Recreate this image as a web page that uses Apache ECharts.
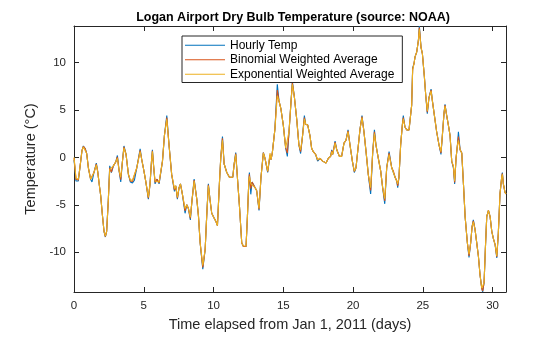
<!DOCTYPE html>
<html><head><meta charset="utf-8">
<script src="https://cdn.jsdelivr.net/npm/echarts@6/dist/echarts.min.js"></script>
<style>html,body{margin:0;padding:0;background:#fff}#c{width:560px;height:337px}</style>
</head><body><div id="c"></div>
<script>
const days = [0.00,0.07,0.14,0.31,0.43,0.57,0.67,0.81,0.91,1.03,
1.19,1.29,1.43,1.60,1.70,1.82,1.91,2.03,2.15,2.25,
2.34,2.46,2.56,2.68,2.82,2.99,3.11,3.23,3.35,3.46,
3.58,3.73,3.90,4.04,4.19,4.33,4.50,4.74,4.85,4.97,
5.14,5.33,5.45,5.55,5.62,5.71,5.81,5.95,6.10,6.24,
6.34,6.48,6.65,6.81,7.00,7.20,7.29,7.41,7.53,7.63,
7.77,7.96,8.08,8.20,8.34,8.44,8.61,8.80,8.92,9.04,
9.23,9.40,9.51,9.63,9.75,9.87,10.04,10.18,10.28,10.42,
10.52,10.64,10.76,10.95,11.14,11.38,11.47,11.59,11.71,11.86,
12.02,12.14,12.33,12.43,12.53,12.57,12.67,12.76,12.98,13.09,
13.26,13.40,13.57,13.69,13.88,14.05,14.12,14.21,14.40,14.57,
14.69,14.83,15.00,15.17,15.29,15.41,15.55,15.65,15.79,15.96,
16.12,16.24,16.36,16.51,16.60,16.75,16.91,17.03,17.15,17.32,
17.46,17.63,17.82,18.06,18.23,18.39,18.47,18.54,18.71,18.83,
19.02,19.18,19.35,19.49,19.64,19.78,19.95,20.09,20.21,20.38,
20.50,20.64,20.78,20.93,21.09,21.26,21.41,21.53,21.64,21.81,
21.98,22.12,22.27,22.41,22.58,22.77,22.89,23.01,23.13,23.20,
23.29,23.41,23.53,23.60,23.72,23.84,24.01,24.13,24.20,24.27,
24.37,24.44,24.56,24.68,24.75,24.87,24.97,25.11,25.21,25.32,
25.44,25.59,25.68,25.83,25.99,26.16,26.30,26.40,26.52,26.59,
26.71,26.83,26.95,27.07,27.19,27.28,27.38,27.48,27.55,27.67,
27.79,27.91,28.03,28.19,28.31,28.43,28.53,28.62,28.74,28.86,
28.98,29.10,29.22,29.29,29.39,29.48,29.58,29.70,29.82,29.94,
30.06,30.18,30.30,30.41,30.53,30.65,30.70,30.77,30.89,30.96];

const hourlyTemp = [-0.3,-1.2,-2.5,-2.5,-1.0,0.7,1.2,0.9,0.4,-1.1,
-2.3,-2.6,-1.6,-0.6,-1.5,-3.0,-4.0,-6.0,-7.8,-8.4,
-7.8,-4.5,-0.9,-1.6,-0.9,-0.5,0.2,-1.4,-2.6,-0.6,
1.2,0.3,-1.8,-2.6,-2.7,-2.4,-1.1,0.9,-0.2,-1.1,
-2.5,-4.4,-2.8,-0.5,0.8,-1.0,-2.8,-2.3,-2.8,-2.6,
-0.4,2.3,4.4,1.3,-1.8,-3.6,-3.0,-4.4,-3.2,-2.8,
-3.9,-5.9,-5.0,-5.4,-6.6,-4.8,-2.3,-4.4,-6.2,-9.0,
-11.8,-9.7,-6.2,-2.8,-4.5,-5.9,-6.4,-6.8,-7.2,-2.8,
0.0,2.2,-0.7,-1.6,-2.1,-2.1,-0.8,0.5,-2.1,-5.2,
-9.0,-9.4,-9.4,-6.2,-2.5,-1.6,-3.9,-2.6,-3.2,-3.5,
-5.6,-2.1,0.5,-0.1,-1.6,0.2,-0.25,0.45,3.0,7.7,
5.95,5.1,3.4,1.0,0.1,2.7,5.8,8.0,6.4,4.05,
1.3,0.4,2.0,4.4,3.5,3.4,2.3,0.95,0.6,0.3,
-0.4,-0.1,-0.4,-0.6,-0.1,0.1,0.8,0.3,1.7,0.8,
0.1,0.1,1.5,1.8,2.9,1.3,-0.4,-1.6,-1.1,1.3,
3.0,4.4,2.7,0.6,-1.8,-3.85,0.6,2.9,1.3,-0.1,
-1.45,-3.2,-4.9,-1.1,0.6,-1.1,-1.3,-2.1,-2.5,-3.2,
-2.1,1.3,3.4,4.4,3.2,2.9,2.9,3.0,5.5,9.4,
9.9,10.6,11.1,12.3,13.85,11.6,10.9,8.5,6.5,4.6,
6.3,7.2,6.0,4.4,2.7,1.3,0.3,2.3,4.7,5.6,
4.4,3.4,2.3,-0.4,-1.1,-2.8,-0.1,1.3,2.7,0.8,
0.45,-2.8,-6.25,-9.0,-10.55,-9.0,-7.3,-6.6,-7.6,-9.0,
-10.4,-12.4,-13.8,-14.2,-13.2,-9.7,-6.25,-5.6,-6.25,-7.8,
-8.6,-9.2,-10.6,-8.0,-3.85,-2.1,-1.6,-2.8,-3.7,-3.85];

const binomialAvg = [-0.1,-1.1,-2.3,-2.4,-1.0,0.7,1.15,0.9,0.4,-1.1,
-2.3,-2.5,-1.6,-0.7,-1.5,-3.0,-4.0,-6.0,-7.8,-8.35,
-7.8,-4.5,-1.1,-1.55,-0.9,-0.5,0.05,-1.4,-2.35,-0.6,
1.1,0.3,-1.8,-2.5,-2.55,-2.4,-1.1,0.75,-0.2,-1.1,
-2.5,-4.3,-2.8,-0.5,0.7,-1.0,-2.65,-2.3,-2.7,-2.6,
-0.4,2.3,4.2,1.3,-1.8,-3.45,-3.0,-4.3,-3.2,-2.8,
-3.9,-5.65,-5.0,-5.4,-6.45,-4.8,-2.4,-4.4,-6.2,-9.0,
-11.6,-9.7,-6.2,-2.9,-4.5,-5.9,-6.4,-6.8,-7.2,-2.8,
0.0,2.0,-0.7,-1.6,-2.1,-2.1,-0.8,0.4,-2.1,-5.2,
-9.0,-9.4,-9.4,-6.2,-2.5,-1.8,-3.3,-2.6,-3.2,-3.5,
-5.5,-2.1,0.5,-0.1,-1.5,0.3,-0.25,0.45,3.0,7.1,
5.95,5.1,3.4,1.0,0.45,2.7,5.8,7.85,6.4,4.05,
1.3,0.6,2.0,4.2,3.5,3.4,2.3,0.95,0.6,0.3,
-0.3,-0.1,-0.4,-0.6,-0.1,0.1,0.7,0.3,1.6,0.8,
0.1,0.1,1.5,1.8,2.8,1.3,-0.4,-1.5,-1.1,1.3,
3.0,4.3,2.7,0.6,-1.8,-3.5,0.6,2.7,1.3,-0.1,
-1.45,-3.2,-4.6,-1.1,0.45,-1.1,-1.45,-2.1,-2.5,-3.0,
-2.1,1.3,3.4,4.2,3.2,2.9,2.9,3.0,5.5,9.3,
9.9,10.6,11.1,12.3,13.7,11.6,10.9,8.5,6.5,4.75,
6.3,7.1,6.0,4.4,2.7,1.3,0.45,2.3,4.7,5.5,
4.4,3.4,2.3,-0.4,-1.0,-2.65,-0.1,1.3,2.2,0.8,
0.45,-2.8,-6.25,-9.0,-10.4,-9.0,-7.3,-6.7,-7.6,-9.0,
-10.4,-12.4,-13.8,-14.1,-13.2,-9.7,-6.25,-5.6,-6.25,-7.8,
-8.6,-9.2,-10.5,-8.0,-3.85,-2.1,-1.7,-2.8,-3.7,-3.85];

const expWeightedAvg = [0.0,-1.0,-2.2,-2.3,-1.0,0.7,1.1,0.9,0.4,-1.1,
-2.3,-2.4,-1.6,-0.8,-1.5,-3.0,-4.0,-6.0,-7.8,-8.3,
-7.8,-4.5,-1.3,-1.5,-0.9,-0.5,-0.1,-1.4,-2.1,-0.6,
1.0,0.3,-1.8,-2.4,-2.4,-2.4,-1.1,0.6,-0.2,-1.1,
-2.5,-4.2,-2.8,-0.5,0.6,-1.0,-2.5,-2.3,-2.6,-2.6,
-0.4,2.3,4.0,1.3,-1.8,-3.3,-3.0,-4.2,-3.2,-2.8,
-3.9,-5.4,-5.0,-5.4,-6.3,-4.8,-2.5,-4.4,-6.2,-9.0,
-11.4,-9.7,-6.2,-3.0,-4.5,-5.9,-6.4,-6.8,-7.2,-2.8,
0.0,1.8,-0.7,-1.6,-2.1,-2.1,-0.8,0.3,-2.1,-5.2,
-9.0,-9.35,-9.35,-6.2,-2.5,-2.0,-2.8,-2.6,-3.2,-3.5,
-5.4,-2.1,0.45,-0.1,-1.45,0.45,-0.25,0.45,3.0,6.5,
5.95,5.1,3.4,1.0,0.8,2.7,5.8,7.7,6.4,4.05,
1.3,0.8,2.0,4.05,3.5,3.4,2.3,0.95,0.6,0.3,
-0.25,-0.1,-0.4,-0.6,-0.1,0.1,0.6,0.3,1.5,0.8,
0.1,0.1,1.5,1.8,2.7,1.3,-0.4,-1.45,-1.1,1.3,
3.0,4.2,2.7,0.6,-1.8,-3.2,0.6,2.5,1.3,-0.1,
-1.45,-3.2,-4.35,-1.1,0.3,-1.1,-1.6,-2.1,-2.5,-2.8,
-2.1,1.3,3.4,4.05,3.2,2.9,2.9,3.0,5.5,9.2,
9.9,10.6,11.1,12.3,13.5,11.6,10.9,8.5,6.5,4.9,
6.3,7.0,6.0,4.4,2.7,1.3,0.6,2.3,4.7,5.4,
4.4,3.4,2.3,-0.4,-0.9,-2.5,-0.1,1.3,1.8,0.8,
0.45,-2.8,-6.25,-9.0,-10.2,-9.0,-7.3,-6.8,-7.6,-9.0,
-10.4,-12.4,-13.8,-14.0,-13.2,-9.7,-6.25,-5.6,-6.25,-7.8,
-8.6,-9.2,-10.4,-8.0,-3.85,-2.1,-1.8,-2.8,-3.7,-3.85];

const seriesNames = ['Hourly Temp', 'Binomial Weighted Average', 'Exponential Weighted Average'];
const xTicks = [0, 5, 10, 15, 20, 25, 30];
const yTicks = [-10, -5, 0, 5, 10];
const xMin = 0, xMax = 30.96, yMin = -14.2, yMax = 13.85;

const FONT = '"Liberation Sans", Arial, Helvetica, sans-serif';
const AX = '#262626';
const colors = ['#0072BD', '#D95319', '#EDB120'];
const pairs = v => days.map((d, i) => [d, v[i]]);

function xAxisDef(pos, labels) {
  return {
    type: 'value', position: pos, min: xMin, max: xMax,
    name: labels ? 'Time elapsed from Jan 1, 2011 (days)' : '',
    nameLocation: 'middle', nameGap: 25,
    nameTextStyle: { fontFamily: FONT, fontSize: 14.5, color: AX },
    axisLine: { show: true, onZero: false, lineStyle: { color: AX, width: 1 } },
    axisTick: { show: true, inside: true, length: 5, customValues: xTicks, lineStyle: { color: AX } },
    axisLabel: { show: labels, customValues: xTicks, fontFamily: FONT, fontSize: 11.5, color: AX, margin: 8 },
    splitLine: { show: false }
  };
}
function yAxisDef(pos, labels) {
  return {
    type: 'value', position: pos, min: yMin, max: yMax,
    name: labels ? 'Temperature (°C)' : '',
    nameLocation: 'middle', nameGap: 29, nameRotate: 90,
    nameTextStyle: { fontFamily: FONT, fontSize: 14.5, color: AX },
    axisLine: { show: true, onZero: false, lineStyle: { color: AX, width: 1 } },
    axisTick: { show: true, inside: true, length: 5, customValues: yTicks, lineStyle: { color: AX } },
    axisLabel: { show: labels, customValues: yTicks, fontFamily: FONT, fontSize: 11.5, color: AX, margin: 8 },
    splitLine: { show: false }
  };
}

const chart = echarts.init(document.getElementById('c'), null, { renderer: 'canvas' });
chart.setOption({
  animation: false,
  backgroundColor: '#fff',
  title: {
    text: 'Logan Airport Dry Bulb Temperature (source: NOAA)',
    left: 288, top: 6, textAlign: 'center',
    textStyle: { fontFamily: FONT, fontSize: 12.5, fontWeight: 'bold', color: '#000' }
  },
  grid: { left: 74, right: 54, top: 26, bottom: 40, containLabel: false },
  legend: {
    orient: 'vertical', left: 182, top: 36,
    data: seriesNames, icon: 'rect', itemWidth: 40, itemHeight: 1.2, itemGap: 0,
    selectedMode: false,
    borderColor: AX, borderWidth: 1, backgroundColor: '#fff',
    padding: [2, 8, 1, 3],
    textStyle: { fontFamily: FONT, fontSize: 12, color: '#000', lineHeight: 14.5 }
  },
  xAxis: [xAxisDef('bottom', true), xAxisDef('top', false)],
  yAxis: [yAxisDef('left', true), yAxisDef('right', false)],
  series: [
    { name: seriesNames[0], type: 'line', data: pairs(hourlyTemp), showSymbol: false, symbol: 'none',
      color: colors[0], lineStyle: { width: 1.1, color: colors[0] } },
    { name: seriesNames[1], type: 'line', data: pairs(binomialAvg), showSymbol: false, symbol: 'none',
      color: colors[1], lineStyle: { width: 1.1, color: colors[1] } },
    { name: seriesNames[2], type: 'line', data: pairs(expWeightedAvg), showSymbol: false, symbol: 'none',
      color: colors[2], lineStyle: { width: 1.1, color: colors[2] } }
  ]
});
</script>
</body></html>
